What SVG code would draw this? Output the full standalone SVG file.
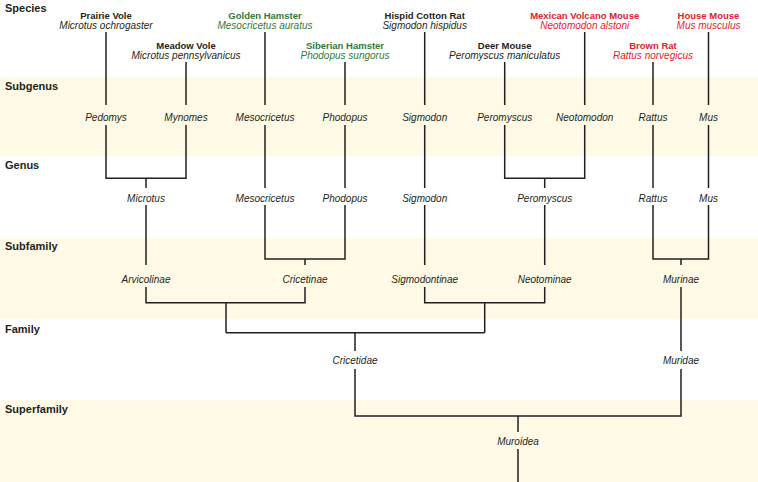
<svg xmlns="http://www.w3.org/2000/svg" width="758" height="482" viewBox="0 0 758 482">
<style>
.band{fill:#fefae6}
.row{font-family:"Liberation Sans",Arial,sans-serif;font-weight:bold;font-size:11px;fill:#231f20}
.cn{font-family:"Liberation Sans",Arial,sans-serif;font-weight:bold;font-size:9.5px;text-anchor:middle}
.sn{font-family:"Liberation Sans",Arial,sans-serif;font-style:italic;font-size:10px;text-anchor:middle}
.tx{font-family:"Liberation Sans",Arial,sans-serif;font-style:italic;font-size:10px;text-anchor:middle;fill:#231f20}
.k{fill:#231f20}.g{fill:#2e7a3c}.r{fill:#e3212b}
#connectors path{fill:none;stroke:#231f20;stroke-width:1.5}
</style>
<rect width="758" height="482" fill="#ffffff"/>
<g id="bands">
<rect class="band" x="0" y="77" width="758" height="79"/>
<rect class="band" x="0" y="238" width="758" height="81"/>
<rect class="band" x="0" y="400" width="758" height="82"/>
</g>
<g id="rows">
<text class="row" x="5" y="12">Species</text>
<text class="row" x="5" y="90">Subgenus</text>
<text class="row" x="5" y="169">Genus</text>
<text class="row" x="5" y="250">Subfamily</text>
<text class="row" x="5" y="333">Family</text>
<text class="row" x="5" y="413">Superfamily</text>
</g>
<g id="connectors">
<path d="M106,32V105M186,62V105M265,32V105M345,62V105M424.7,32V105M504.7,62V105M584.7,32V105M653,62V105M708.5,32V105"/>
<path d="M106,125V178.3H186V125M146,178.3V188M146,205V265"/>
<path d="M265,125V188M345,125V188M265,205V259H345V205M305,259V265"/>
<path d="M424.7,125V188M424.7,205V265"/>
<path d="M504.7,125V178.3H584.7V125M544.7,178.3V188M544.7,205V265"/>
<path d="M653,125V188M708.5,125V188M653,205V259H708.5V205M681,259V265"/>
<path d="M146,287V302.7H305V287M226,302.7V332.7"/>
<path d="M424.7,287V302.7H544.7V287M484.7,302.7V332.7"/>
<path d="M226,332.7H484.7M355,332.7V351"/>
<path d="M681,287V351"/>
<path d="M355,369V416H681V369M518,416V432M518,449V482"/>
</g>
<g id="species-prairie-vole"><text class="cn k" x="106" y="19">Prairie Vole</text><text class="sn k" x="106" y="29">Microtus ochrogaster</text></g>
<g id="species-meadow-vole"><text class="cn k" x="186" y="49">Meadow Vole</text><text class="sn k" x="186" y="59">Microtus pennsylvanicus</text></g>
<g id="species-golden-hamster"><text class="cn g" x="265" y="19">Golden Hamster</text><text class="sn g" x="265" y="29">Mesocricetus auratus</text></g>
<g id="species-siberian-hamster"><text class="cn g" x="345" y="49">Siberian Hamster</text><text class="sn g" x="345" y="59">Phodopus sungorus</text></g>
<g id="species-hispid-cotton-rat"><text class="cn k" x="424.7" y="19">Hispid Cotton Rat</text><text class="sn k" x="424.7" y="29">Sigmodon hispidus</text></g>
<g id="species-deer-mouse"><text class="cn k" x="504.7" y="49">Deer Mouse</text><text class="sn k" x="504.7" y="59">Peromyscus maniculatus</text></g>
<g id="species-mexican-volcano-mouse"><text class="cn r" x="584.7" y="19">Mexican Volcano Mouse</text><text class="sn r" x="584.7" y="29">Neotomodon alstoni</text></g>
<g id="species-brown-rat"><text class="cn r" x="653" y="49">Brown Rat</text><text class="sn r" x="653" y="59">Rattus norvegicus</text></g>
<g id="species-house-mouse"><text class="cn r" x="708.5" y="19">House Mouse</text><text class="sn r" x="708.5" y="29">Mus musculus</text></g>
<g id="subgenus-pedomys"><text class="tx" x="106" y="121">Pedomys</text></g>
<g id="subgenus-mynomes"><text class="tx" x="186" y="121">Mynomes</text></g>
<g id="subgenus-mesocricetus"><text class="tx" x="265" y="121">Mesocricetus</text></g>
<g id="subgenus-phodopus"><text class="tx" x="345" y="121">Phodopus</text></g>
<g id="subgenus-sigmodon"><text class="tx" x="424.7" y="121">Sigmodon</text></g>
<g id="subgenus-peromyscus"><text class="tx" x="504.7" y="121">Peromyscus</text></g>
<g id="subgenus-neotomodon"><text class="tx" x="584.7" y="121">Neotomodon</text></g>
<g id="subgenus-rattus"><text class="tx" x="653" y="121">Rattus</text></g>
<g id="subgenus-mus"><text class="tx" x="708.5" y="121">Mus</text></g>
<g id="genus-microtus"><text class="tx" x="146" y="202">Microtus</text></g>
<g id="genus-mesocricetus"><text class="tx" x="265" y="202">Mesocricetus</text></g>
<g id="genus-phodopus"><text class="tx" x="345" y="202">Phodopus</text></g>
<g id="genus-sigmodon"><text class="tx" x="424.7" y="202">Sigmodon</text></g>
<g id="genus-peromyscus"><text class="tx" x="544.7" y="202">Peromyscus</text></g>
<g id="genus-rattus"><text class="tx" x="653" y="202">Rattus</text></g>
<g id="genus-mus"><text class="tx" x="708.5" y="202">Mus</text></g>
<g id="subfamily-arvicolinae"><text class="tx" x="146" y="283">Arvicolinae</text></g>
<g id="subfamily-cricetinae"><text class="tx" x="305" y="283">Cricetinae</text></g>
<g id="subfamily-sigmodontinae"><text class="tx" x="424.7" y="283">Sigmodontinae</text></g>
<g id="subfamily-neotominae"><text class="tx" x="544.7" y="283">Neotominae</text></g>
<g id="subfamily-murinae"><text class="tx" x="681" y="283">Murinae</text></g>
<g id="family-cricetidae"><text class="tx" x="355" y="364">Cricetidae</text></g>
<g id="family-muridae"><text class="tx" x="681" y="364">Muridae</text></g>
<g id="superfamily-muroidea"><text class="tx" x="518" y="445">Muroidea</text></g>
</svg>
